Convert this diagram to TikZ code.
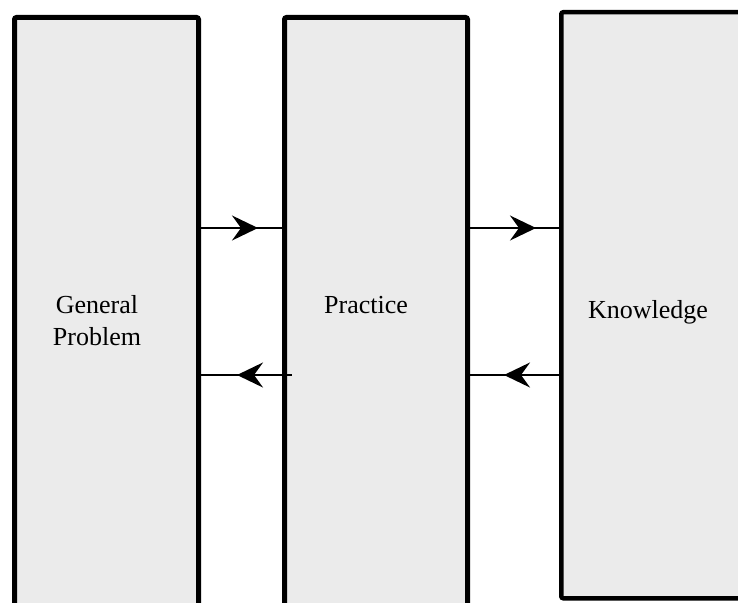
\documentclass[tikz,border=0pt]{standalone}
\usepackage{fontspec}
\setmainfont{Liberation Serif}
\usetikzlibrary{arrows.meta}
\tikzset{
  panel/.style={draw=black, fill=black!8, line width=5pt, rounded corners=2pt, outer sep=0pt, inner sep=0pt},
  conn/.style={line width=2pt},
  tip/.style={line width=2pt, -{Stealth[length=26pt,width=25pt,inset=9pt]}},
  lbl/.style={font=\fontsize{26}{32}\selectfont, align=center, anchor=base, inner sep=0pt}
}
\begin{document}
\begin{tikzpicture}[x=1pt,y=-1pt]
\useasboundingbox (0,0) rectangle (738,602);
\clip (0,0) rectangle (738,602);
% panels
\node[panel, minimum width=184pt, minimum height=620pt, anchor=north west] (gp) at (14.5,17.5) {};
\node[panel, minimum width=183pt, minimum height=620pt, anchor=north west] (pr) at (284.5,17.5) {};
\node[panel, line width=4.5pt, minimum width=200pt, minimum height=586pt, anchor=north west] (kn) at (561.25,12.25) {};
% labels
\node[lbl] (lgp) at (97,313) {General};
\node[lbl] (lgp2) at (97,345) {Problem};
\node[lbl] (lpr) at (366,313) {Practice};
\node[lbl] (lkn) at (648,318) {Knowledge};
% connector end points
\coordinate (t1) at (258,228);
\coordinate (t2) at (536,228);
\coordinate (t3) at (237,375);
\coordinate (t4) at (504,375);
% top arrows (rightwards)
\draw[conn] (gp.east |- t1) -- (pr.west |- t1);
\draw[tip] (gp.east |- t1) -- (t1);
\draw[conn] (pr.east |- t2) -- (kn.west |- t2);
\draw[tip] (pr.east |- t2) -- (t2);
% bottom arrows (leftwards)
\draw[conn] (gp.east |- t3) -- ([xshift=7pt]pr.west |- t3);
\draw[tip] ([xshift=7pt]pr.west |- t3) -- (t3);
\draw[conn] (pr.east |- t4) -- (kn.west |- t4);
\draw[tip] (kn.west |- t4) -- (t4);
\end{tikzpicture}
\end{document}
